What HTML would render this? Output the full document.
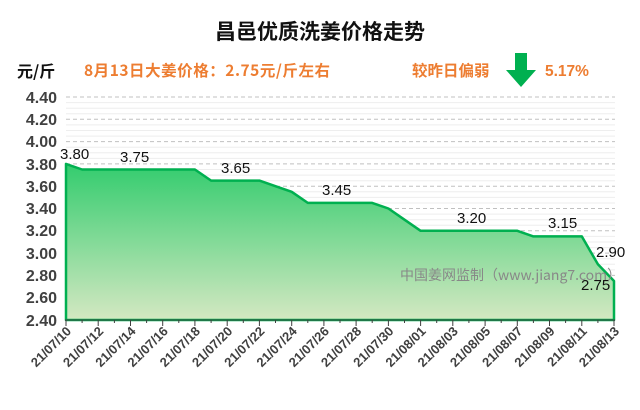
<!DOCTYPE html>
<html><head><meta charset="utf-8"><style>
body{margin:0;background:#fff;}
svg{display:block;font-family:"Liberation Sans","Noto Sans CJK SC",sans-serif;}
</style></head><body>
<svg width="640" height="410" viewBox="0 0 640 410">
<defs><linearGradient id="g" x1="0" y1="0" x2="0" y2="1">
<stop offset="0" stop-color="#33cc6e"/><stop offset="1" stop-color="#d4e8c2"/></linearGradient></defs>
<text x="320" y="39" text-anchor="middle" font-size="21" font-weight="bold" fill="#111" font-family="'Noto Sans CJK SC',sans-serif">昌邑优质洗姜价格走势</text>
<text x="17" y="77" font-size="16" font-weight="bold" fill="#111" font-family="'Noto Sans CJK SC',sans-serif">元/斤</text>
<text x="84" y="76" font-size="15.5" font-weight="bold" fill="#ed7d31" font-family="'Noto Sans CJK SC',sans-serif" textLength="246">8月13日大姜价格：2.75元/斤左右</text>
<text x="412" y="76" font-size="15.5" font-weight="bold" fill="#ed7d31" font-family="'Noto Sans CJK SC',sans-serif">较昨日偏弱</text>
<text x="545" y="76" font-size="15.5" font-weight="bold" fill="#ed7d31">5.17%</text>
<polygon points="515,53 527,53 527,70 536,70 521,87 506,70 515,70" fill="#00b050"/>
<g stroke="#eeeeee" stroke-width="1">
<line x1="66" x2="615" y1="102.6" y2="102.6"/><line x1="66" x2="615" y1="108.2" y2="108.2"/><line x1="66" x2="615" y1="113.8" y2="113.8"/>
<line x1="66" x2="615" y1="124.9" y2="124.9"/><line x1="66" x2="615" y1="130.5" y2="130.5"/><line x1="66" x2="615" y1="136.1" y2="136.1"/>
<line x1="66" x2="615" y1="147.2" y2="147.2"/><line x1="66" x2="615" y1="152.8" y2="152.8"/><line x1="66" x2="615" y1="158.4" y2="158.4"/>
<line x1="66" x2="615" y1="169.5" y2="169.5"/><line x1="66" x2="615" y1="175.1" y2="175.1"/><line x1="66" x2="615" y1="180.7" y2="180.7"/>
<line x1="66" x2="615" y1="191.8" y2="191.8"/><line x1="66" x2="615" y1="197.4" y2="197.4"/><line x1="66" x2="615" y1="203" y2="203"/>
<line x1="66" x2="615" y1="214.1" y2="214.1"/><line x1="66" x2="615" y1="219.7" y2="219.7"/><line x1="66" x2="615" y1="225.3" y2="225.3"/>
<line x1="66" x2="615" y1="236.4" y2="236.4"/><line x1="66" x2="615" y1="242" y2="242"/><line x1="66" x2="615" y1="247.6" y2="247.6"/>
<line x1="66" x2="615" y1="258.7" y2="258.7"/><line x1="66" x2="615" y1="264.3" y2="264.3"/><line x1="66" x2="615" y1="269.9" y2="269.9"/>
</g>
<g stroke="#c0c0c0" stroke-width="1" stroke-dasharray="4,3">
<line x1="66" x2="615" y1="97" y2="97"/><line x1="66" x2="615" y1="119.3" y2="119.3"/><line x1="66" x2="615" y1="141.6" y2="141.6"/>
<line x1="66" x2="615" y1="163.9" y2="163.9"/><line x1="66" x2="615" y1="186.2" y2="186.2"/><line x1="66" x2="615" y1="208.5" y2="208.5"/>
<line x1="66" x2="615" y1="230.8" y2="230.8"/><line x1="66" x2="615" y1="253.1" y2="253.1"/><line x1="66" x2="615" y1="275.4" y2="275.4"/>
<line x1="66" x2="615" y1="297.7" y2="297.7"/>
</g>
<polygon points="66,320 66,163.9 82.1,169.5 194.9,169.5 211.1,180.6 259.4,180.6 275.5,186.2 291.7,191.8 307.8,202.9 372.2,202.9 388.4,208.5 404.5,219.7 420.6,230.8 517.3,230.8 533.4,236.4 581.8,236.4 597.9,264.3 614,281 614,320" fill="url(#g)" stroke="#00b050" stroke-width="2.5" stroke-linejoin="round"/>
<g font-size="16" font-weight="bold" fill="#404040" text-anchor="end">
<text x="57" y="103">4.40</text><text x="57" y="125">4.20</text><text x="57" y="147">4.00</text><text x="57" y="170">3.80</text>
<text x="57" y="192">3.60</text><text x="57" y="214">3.40</text><text x="57" y="236">3.20</text><text x="57" y="259">3.00</text>
<text x="57" y="281">2.80</text><text x="57" y="303">2.60</text><text x="57" y="326">2.40</text>
</g>
<g font-size="15" fill="#111">
<text x="60" y="159">3.80</text><text x="120" y="162">3.75</text><text x="221" y="173">3.65</text><text x="322" y="195">3.45</text>
<text x="457" y="223">3.20</text><text x="548" y="228">3.15</text><text x="596" y="257">2.90</text><text x="581" y="290">2.75</text>
</g>
<text x="400" y="280" font-size="14" fill="#888" font-family="'Noto Sans CJK SC',sans-serif">中国姜网监制（www.jiang7.com）</text>
<line x1="65" x2="615" y1="320" y2="320" stroke="#404040" stroke-width="1"/>
<g stroke="#404040" stroke-width="1">
<path d="M66,320v6M98.2,320v6M130.5,320v6M162.7,320v6M194.9,320v6M227.2,320v6M259.4,320v6M291.7,320v6M323.9,320v6M356.1,320v6M388.4,320v6M420.6,320v6M452.8,320v6M485.1,320v6M517.3,320v6M549.5,320v6M581.8,320v6M614,320v6"/>
<path d="M82.1,320v3M114.4,320v3M146.6,320v3M178.8,320v3M211.1,320v3M243.3,320v3M275.5,320v3M307.8,320v3M340,320v3M372.2,320v3M404.5,320v3M436.7,320v3M468.9,320v3M501.2,320v3M533.4,320v3M565.6,320v3M597.9,320v3"/>
</g>
<g font-size="13" font-weight="bold" fill="#404040" text-anchor="end">
<text transform="translate(72,332) rotate(-45)">21/07/10</text>
<text transform="translate(104.2,332) rotate(-45)">21/07/12</text>
<text transform="translate(136.5,332) rotate(-45)">21/07/14</text>
<text transform="translate(168.7,332) rotate(-45)">21/07/16</text>
<text transform="translate(200.9,332) rotate(-45)">21/07/18</text>
<text transform="translate(233.2,332) rotate(-45)">21/07/20</text>
<text transform="translate(265.4,332) rotate(-45)">21/07/22</text>
<text transform="translate(297.7,332) rotate(-45)">21/07/24</text>
<text transform="translate(329.9,332) rotate(-45)">21/07/26</text>
<text transform="translate(362.1,332) rotate(-45)">21/07/28</text>
<text transform="translate(394.4,332) rotate(-45)">21/07/30</text>
<text transform="translate(426.6,332) rotate(-45)">21/08/01</text>
<text transform="translate(458.8,332) rotate(-45)">21/08/03</text>
<text transform="translate(491.1,332) rotate(-45)">21/08/05</text>
<text transform="translate(523.3,332) rotate(-45)">21/08/07</text>
<text transform="translate(555.5,332) rotate(-45)">21/08/09</text>
<text transform="translate(587.8,332) rotate(-45)">21/08/11</text>
<text transform="translate(620,332) rotate(-45)">21/08/13</text>
</g>
</svg>
</body></html>
